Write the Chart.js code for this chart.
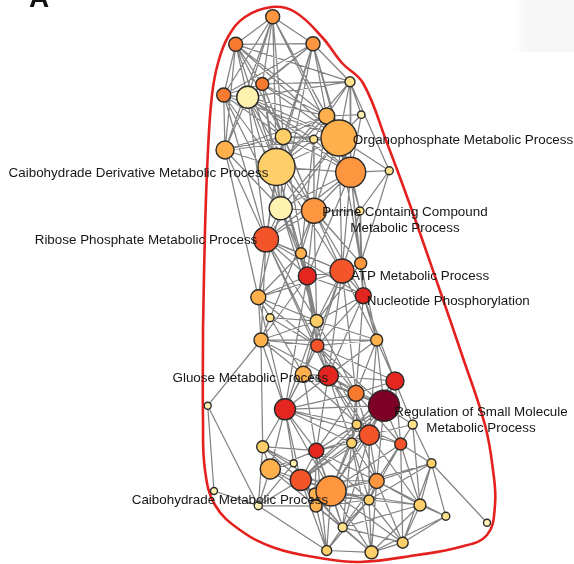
<!DOCTYPE html>
<html>
<head>
<meta charset="utf-8">
<script src="https://cdn.jsdelivr.net/npm/chart.js@4.4.1/dist/chart.umd.min.js"></script>
<style>
  html, body { margin: 0; padding: 0; background: #fff; }
  #graph { display: block; }
</style>
</head>
<body>
<canvas id="graph" width="574" height="564"></canvas>
<script>
// network layout, node ids start at 1
var nodeX = [272.7, 235.7, 313, 350, 262.3, 223.7, 247.7, 326.7, 361.3, 283.3,
	313.7, 339, 225, 276.5, 350.7, 389.3, 280.7, 314, 360, 266,
	301, 360.7, 307.3, 342, 363.3, 258.3, 270, 316.7, 261, 317.3,
	376.7, 303.3, 328.3, 395, 356, 384, 285, 207.7, 356.7, 412.7,
	369.3, 351.7, 400.7, 262.7, 316.3, 270.3, 293.7, 300.7, 331, 315,
	316, 376.7, 431.5, 214, 258.3, 369, 420, 445.8, 487, 342.7,
	402.7, 326.7, 371.5];
var nodeY = [16.7, 44.3, 43.7, 81.7, 84, 95, 97.3, 116, 114.7, 136.7,
	139.3, 138, 150, 167, 172.3, 170.7, 208.3, 210.7, 211, 239.3,
	253.3, 263.3, 276, 271, 295.7, 297.3, 317.7, 321, 340, 345.7,
	340, 374.3, 375.7, 381, 393.3, 405.7, 409.3, 405.7, 424.5, 424.5,
	435, 443, 444, 446.7, 450.7, 469, 463.3, 480, 491, 494,
	506, 481, 463.3, 491, 505.7, 500, 505, 516.3, 522.7, 527.3,
	542.7, 550.5, 552.3];
// node size (gene count, drawn as radius)
var nodeSize = [7, 7, 7, 5, 6.5, 7, 11, 8, 3.7, 8,
	4, 18, 9, 18.5, 15, 4, 11.5, 12.5, 4, 12.5,
	5.5, 6, 9, 12, 8, 7.5, 4, 6.5, 7, 6.5,
	6, 8, 10, 9, 8, 15.5, 10.5, 3.5, 4.5, 4.5,
	10, 5, 6, 6, 7.5, 10, 3.5, 10.5, 15, 6,
	6, 7.5, 4.5, 3.5, 4, 5, 6, 4, 3.5, 4.5,
	5.5, 5, 6.5];
// significance level 0 (weak) .. 8 (strong)
var nodeLevel = [4, 5, 4, 1, 5, 5, 0, 3, 0, 2,
	1, 3, 3, 2, 4, 1, 0, 4, 1, 6,
	3, 4, 7, 6, 7, 3, 1, 2, 3, 6,
	3, 3, 7, 7, 5, 8, 7, 0, 2, 1,
	6, 2, 6, 2, 7, 3, 0, 6, 4, 3,
	3, 4, 2, 0, 0, 2, 2, 1, 0, 1,
	2, 2, 2];
var edges = [
	[1,2],[1,3],[1,5],[1,6],[1,7],[1,8],[1,10],[1,12],[1,14],[1,15],[1,13],
	[2,3],[2,5],[2,6],[2,7],[2,8],[2,10],[2,12],[2,14],[2,13],[2,4],
	[3,4],[3,5],[3,6],[3,7],[3,8],[3,10],[3,12],[3,14],[3,15],[3,17],
	[4,5],[4,7],[4,8],[4,12],[4,15],[4,16],[4,9],[4,14],
	[5,6],[5,7],[5,8],[5,10],[5,12],[5,14],[5,17],[5,18],
	[6,7],[6,13],[6,14],[6,17],[6,10],[6,12],[6,20],
	[7,8],[7,10],[7,12],[7,13],[7,14],[7,15],[7,17],[7,18],[7,20],[7,11],
	[8,9],[8,10],[8,12],[8,14],[8,15],[8,18],[8,11],[8,13],
	[9,12],[9,15],
	[10,11],[10,12],[10,13],[10,14],[10,15],[10,17],[10,18],[10,20],[10,23],
	[11,12],[11,14],[11,15],[11,18],[11,21],
	[12,14],[12,15],[12,16],[12,17],[12,18],[12,19],[12,20],[12,22],[12,24],[12,13],
	[13,14],[13,17],[13,20],[13,26],
	[14,15],[14,17],[14,18],[14,20],[14,21],[14,23],[14,24],[14,22],[14,28],
	[15,16],[15,17],[15,18],[15,19],[15,20],[15,22],[15,24],[15,23],[15,25],
	[16,19],[16,22],
	[17,18],[17,20],[17,21],[17,23],[17,26],[17,28],
	[18,19],[18,20],[18,21],[18,22],[18,23],[18,24],[18,25],[18,28],[18,29],
	[19,22],[19,24],[19,25],
	[20,21],[20,23],[20,24],[20,26],[20,28],[20,29],[20,30],[20,25],[20,33],
	[21,23],[21,24],[21,28],[21,30],[21,26],
	[22,24],[22,25],[22,28],[22,31],
	[23,24],[23,25],[23,26],[23,28],[23,30],[23,33],[23,29],[23,37],
	[24,25],[24,28],[24,30],[24,31],[24,33],[24,35],[24,26],[24,32],
	[25,28],[25,30],[25,31],[25,34],[25,33],[25,35],
	[26,27],[26,29],[26,28],[26,30],[26,37],[26,32],
	[27,29],[27,30],[27,28],
	[28,29],[28,30],[28,31],[28,32],[28,33],[28,35],[28,37],
	[29,30],[29,32],[29,33],[29,37],[29,38],[29,31],[29,44],
	[30,31],[30,32],[30,33],[30,35],[30,37],[30,41],[30,34],[30,36],
	[31,33],[31,34],[31,36],[31,35],[31,41],
	[32,33],[32,37],[32,36],[32,41],[32,45],[32,35],
	[33,35],[33,36],[33,37],[33,41],[33,39],[33,42],[33,34],[33,45],
	[34,35],[34,36],[34,41],[34,43],[34,40],[34,39],
	[35,36],[35,37],[35,39],[35,41],[35,42],[35,45],[35,43],
	[36,37],[36,39],[36,40],[36,41],[36,42],[36,43],[36,45],[36,48],[36,49],[36,52],
	[37,39],[37,41],[37,42],[37,44],[37,45],[37,46],[37,48],[37,49],[37,47],
	[38,54],[38,55],
	[39,41],[39,42],[39,45],[39,48],[39,49],[39,52],[39,43],
	[40,41],[40,43],[40,53],[40,52],[40,57],
	[41,42],[41,43],[41,45],[41,48],[41,49],[41,52],[41,56],[41,60],[41,57],
	[42,45],[42,48],[42,49],[42,52],[42,56],[42,60],[42,63],
	[43,49],[43,52],[43,53],[43,56],[43,57],[43,61],
	[44,45],[44,46],[44,48],[44,49],[44,47],[44,55],
	[45,46],[45,48],[45,49],[45,50],[45,52],[45,56],[45,60],[45,62],
	[46,48],[46,49],[46,50],[46,51],[46,55],[46,47],
	[47,48],[47,55],
	[48,49],[48,50],[48,51],[48,52],[48,56],[48,60],[48,62],[48,55],
	[49,50],[49,51],[49,52],[49,53],[49,56],[49,57],[49,60],[49,61],[49,62],[49,63],
	[50,51],[50,56],[50,60],
	[51,55],[51,60],[51,62],[51,63],[51,56],
	[52,53],[52,56],[52,57],[52,58],[52,60],[52,61],[52,63],
	[53,57],[53,58],[53,59],[53,61],[53,56],
	[54,55],[55,62],
	[56,57],[56,60],[56,61],[56,63],[56,62],
	[57,58],[57,61],[57,63],[57,60],
	[58,61],[58,63],
	[60,62],[60,63],[60,61],
	[61,63],[62,63]
];
// outline of the cluster, clockwise
var hullX = [203, 205, 208, 212, 218, 228, 245, 272, 295, 322, 342, 363, 387, 410, 438, 462,
	485, 493, 495, 487, 460, 417, 360, 320, 275, 240, 215, 205, 203, 203];
var hullY = [330, 230, 150, 95, 63, 37, 17, 7, 12, 37, 63, 83, 143, 205, 285, 355,
	425, 470, 505, 535, 547, 555, 562, 558, 548, 530, 505, 470, 420, 330];
var labelNode = [12, 14, 19, 20, 24, 25, 33, 36, 49];
var labelText = [
	['Organophosphate Metabolic Process'],
	['Caibohydrade Derivative Metabolic Process'],
	['Purine Containg Compound', 'Metabolic Process'],
	['Ribose Phosphate Metabolic Process'],
	['ATP Metabolic Process'],
	['Nucleotide Phosphorylation'],
	['Gluose Metabolic Process'],
	['Regulation of Small Molecule', 'Metabolic Process'],
	['Caibohydrade Metabolic Process']
];
// where each label sits relative to its node (centre of first line)
var labelShift = [[124, 2], [-138, 6], [45, 1], [-120, 1], [78, 5], [85, 6], [-78, 3], [97, 7], [-101, 9]];

var palette = ['#fff2b0', '#fee38c', '#fecf68', '#fdb04c', '#fd963e', '#f77a2f', '#f4542a', '#e3261f', '#7e0026'];

document.addEventListener('DOMContentLoaded', function() {
	initGraph();
});

function initGraph() {
	var context = document.getElementById('graph').getContext('2d');

	// big nodes on top of small ones
	var order = nodeX.map(function(v, i) { return i; });
	order.sort(function(a, b) { return nodeSize[a] - nodeSize[b]; });

	var nodePoints = [];
	var nodeRadius = [];
	var nodeFill = [];
	for(var k = 0; k < order.length; k++) {
		var i = order[k];
		nodePoints.push({x: nodeX[i], y: nodeY[i]});
		nodeRadius.push(nodeSize[i]);
		nodeFill.push(palette[nodeLevel[i]]);
	}

	var edgePoints = [];
	for(var e = 0; e < edges.length; e++) {
		var a = edges[e][0] - 1;
		var b = edges[e][1] - 1;
		edgePoints.push({x: nodeX[a], y: nodeY[a]});
		edgePoints.push({x: nodeX[b], y: nodeY[b]});
		edgePoints.push({x: nodeX[b], y: null});
	}

	var hullPoints = hullX.map(function(x, i) { return {x: x, y: hullY[i]}; });

	var labelPlugin = {
		id: 'nodeLabels',
		afterDatasetsDraw: function(chart) {
			var ctx = chart.ctx;
			var xs = chart.scales.x;
			var ys = chart.scales.y;
			ctx.save();
			ctx.font = '13.4px "Liberation Sans", Arial, sans-serif';
			ctx.fillStyle = '#161616';
			ctx.textAlign = 'center';
			ctx.textBaseline = 'middle';
			for(var i = 0; i < labelNode.length; i++) {
				var n = labelNode[i] - 1;
				var px = xs.getPixelForValue(nodeX[n]) + labelShift[i][0];
				var py = ys.getPixelForValue(nodeY[n]) + labelShift[i][1];
				for(var j = 0; j < labelText[i].length; j++) {
					ctx.fillText(labelText[i][j], px, py + j * 16);
				}
			}
			ctx.restore();
		}
	};

	var framePlugin = {
		id: 'frame',
		beforeDraw: function(chart) {
			var ctx = chart.ctx;
			ctx.save();
			ctx.fillStyle = '#fff';
			ctx.fillRect(0, 0, chart.width, chart.height);
			var g = ctx.createLinearGradient(512, 0, 530, 0);
			g.addColorStop(0, 'rgba(0,0,0,0)');
			g.addColorStop(1, 'rgba(0,0,0,0.035)');
			ctx.fillStyle = g;
			ctx.fillRect(512, 0, 62, 52);
			// panel letter, cut off at the top edge
			ctx.fillStyle = '#111';
			ctx.font = 'bold 28px "Liberation Sans", Arial, sans-serif';
			ctx.textAlign = 'center';
			ctx.textBaseline = 'alphabetic';
			ctx.fillText('A', 39, 7);
			ctx.restore();
		}
	};

	var config = {
		type: 'scatter',
		data: {
			datasets: [
				{
					label: 'Terms',
					data: nodePoints,
					pointRadius: nodeRadius,
					pointHoverRadius: nodeRadius,
					backgroundColor: nodeFill,
					borderColor: '#2a2a2a',
					borderWidth: 1.4,
					order: 0,
				},
				{
					type: 'line',
					label: 'Cluster',
					data: hullPoints,
					borderColor: '#e4211f',
					borderWidth: 2.6,
					tension: 0.4,
					pointRadius: 0,
					fill: false,
					order: 1,
				},
				{
					type: 'line',
					label: 'Links',
					data: edgePoints,
					borderColor: 'rgba(118,118,118,0.9)',
					borderWidth: 1.25,
					pointRadius: 0,
					spanGaps: false,
					fill: false,
					order: 2,
				}
			],
		},
		options: {
			responsive: false,
			animation: false,
			layout: { padding: 0, autoPadding: false },
			plugins: {
				legend: { display: false },
				tooltip: { enabled: false },
			},
			scales: {
				x: { type: 'linear', min: 0, max: 574, display: false },
				y: { type: 'linear', min: 0, max: 564, reverse: true, display: false },
			},
		},
		plugins: [framePlugin, labelPlugin],
	};

	new Chart(context, config);
}
</script>
</body>
</html>
